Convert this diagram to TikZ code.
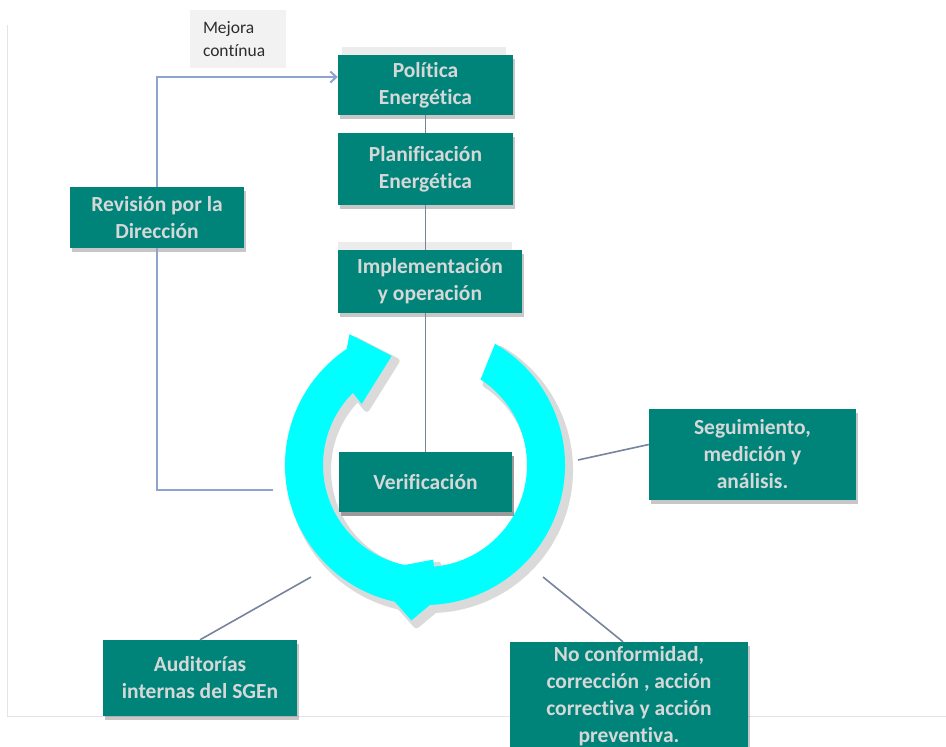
\documentclass[tikz,border=0pt]{standalone}
\usepackage{fontspec}
\setmainfont{Carlito}[Ligatures=NoCommon]
\usetikzlibrary{shadows,arrows.meta}

\definecolor{boxteal}{RGB}{0,132,122}
\definecolor{boxtext}{RGB}{214,216,216}
\definecolor{linkgray}{RGB}{120,132,158}
\definecolor{loopblue}{RGB}{143,163,204}
\definecolor{ringcyan}{RGB}{0,255,255}
\definecolor{ringshade}{RGB}{218,218,218}
\definecolor{notebg}{RGB}{242,242,242}
\definecolor{notetext}{RGB}{45,45,45}
\definecolor{frameline}{RGB}{228,228,228}
\definecolor{ghostbox}{RGB}{236,236,236}

% the two arrow segments of the cycle, in polar form around the ring centre
\newcommand\cyclearcright{(60:140) arc[start angle=60, end angle=-88, radius=140]
  -- (-95:156) -- (-118:121) -- (-85:95) -- (-85:102)
  arc[start angle=-85, end angle=57, radius=102] -- cycle}
\newcommand\cyclearcleft{(-100:140) arc[start angle=-100, end angle=-236, radius=140]
  -- (-240:151) -- (-253:114) -- (-224:88) -- (-225:102)
  arc[start angle=-225, end angle=-100, radius=102] -- cycle}

\begin{document}
\begin{tikzpicture}[x=1pt,y=-1pt,
  stage/.style={fill=boxteal, text=boxtext,
    font=\fontsize{21.5}{27}\selectfont\bfseries, align=center, inner sep=0pt,
    drop shadow={shadow xshift=2pt, shadow yshift=-4pt, fill=black, opacity=0.22}},
  link/.style={draw=linkgray, line width=1.6pt},
  feedback/.style={draw=loopblue, line width=2pt},
  note/.style={fill=notebg, text=notetext, font=\fontsize{17.5}{23}\selectfont,
    align=left, inner xsep=13pt, inner ysep=0pt, text width=70pt,
    minimum height=58pt}
]
\useasboundingbox (0,0) rectangle (946,747);
\fill[white] (0,0) rectangle (946,747);

% page frame
\draw[frameline, line width=1pt] (7,25) -- (7,716) -- (946,716);

% pale blocks sitting behind two of the stages
\fill[ghostbox] (342,47) rectangle (506,100);
\fill[ghostbox] (338,242) rectangle (512,290);

% stages
\node[stage, minimum width=175pt, minimum height=60pt] (pol) at (425.5,85) {Política\\Energética};
\node[stage, minimum width=175pt, minimum height=72pt] (plan) at (425.5,169) {Planificación\\Energética};
\node[stage, minimum width=184pt, minimum height=63pt] (impl) at (430,281.5) {Implementación\\y operación};
\node[stage, minimum width=174pt, minimum height=61pt] (rev) at (157,217.5) {Revisión por la\\Dirección};
\node[stage, minimum width=207pt, minimum height=91pt] (seg) at (752.5,454.5) {Seguimiento,\\medición y\\análisis.};
\node[stage, minimum width=194pt, minimum height=76pt] (aud) at (200,678) {Auditorías\\internas del SGEn};
\node[stage, minimum width=238pt, minimum height=108pt] (noc) at (629,696) {No conformidad,\\corrección\ , acción\\correctiva y acción\\preventiva.};
\node[note] (mej) at (238,39) {Mejora\\contínua};

% free ends of the connectors that start at the ring
\coordinate (loopstart) at (273,490);
\coordinate (ringE) at (578,460);
\coordinate (ringSW) at (311,577);
\coordinate (ringSE) at (543,577);

% connectors
\draw[link] (pol.south) -- (pol.south |- plan.north);
\draw[link] (plan.south) -- (plan.south |- impl.north);
\draw[link] (ringE) -- ([yshift=10pt]seg.west);
\draw[link] (ringSW) -- (aud.north);
\draw[link] (ringSE) -- ([xshift=-6pt]noc.north);
\draw[feedback] (loopstart) -| (rev.south);
\draw[feedback, -{Straight Barb[length=6pt, width=11pt]}] (rev.north) |- ([yshift=8pt]pol.west);

% vertical link into the verification stage
\node[stage, minimum width=173pt, minimum height=60pt] (ver) at (425.5,482) {Verificación};
\draw[link] (ver.north) -- (ver.north |- impl.south);

% the cycle ring with its soft grey underlay
\begin{scope}[shift={(425,465)}, yscale=-1]
  \begin{scope}[shift={(5,-5)}]
    \filldraw[ringshade, line width=6pt, line join=round] \cyclearcright;
    \filldraw[ringshade, line width=6pt, line join=round] \cyclearcleft;
  \end{scope}
  \fill[ringcyan] \cyclearcright;
  \fill[ringcyan] \cyclearcleft;
\end{scope}

% verification stage drawn again on top of the ring underlay
\node[stage, minimum width=173pt, minimum height=60pt] at (425.5,482) {Verificación};
\end{tikzpicture}
\end{document}
